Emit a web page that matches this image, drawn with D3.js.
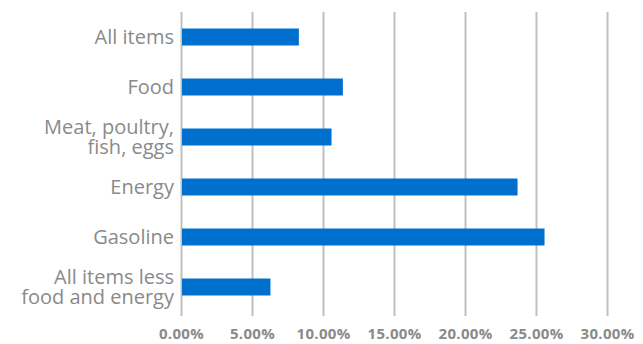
<!DOCTYPE html>
<meta charset="utf-8">
<style>
body { margin: 0; background: #fff; }
.grid line { stroke: #c0c0c0; stroke-width: 2px; }
.grid path { display: none; }
.cat { font-family: "Open Sans", sans-serif; font-size: 20px; fill: #8a8a8a; }
.tick text { font-family: "Open Sans", sans-serif; font-size: 15px; font-weight: bold; fill: #8a8a8a; letter-spacing: 0.3px; }
</style>
<body>
<svg width="643" height="344"></svg>
</body>
<script src="https://d3js.org/d3.v7.min.js"></script>
<script>
var categories = [["All items"], ["Food"], ["Meat, poultry,", "fish, eggs"], ["Energy"], ["Gasoline"], ["All items less", "food and energy"]];
var values = [8.3, 11.4, 10.6, 23.7, 25.6, 6.3];
var ticks = [0, 5, 10, 15, 20, 25, 30];

var svg = d3.select("svg");

var xScale = d3.scaleLinear()
    .domain([0, 30])
    .range([181, 607]);

var yScale = d3.scaleBand()
    .domain(d3.range(categories.length))
    .range([12, 312])
    .paddingInner(0.66)
    .paddingOuter(0.33);

// vertical grid lines + tick labels
svg.append("g")
    .attr("class", "grid")
    .attr("transform", "translate(0,316)")
    .call(d3.axisBottom(xScale)
        .tickValues(ticks)
        .tickSize(-304)
        .tickPadding(12)
        .tickFormat(function(d) { return d.toFixed(2) + "%"; })
    );

svg.selectAll("rect.bar")
    .data(values)
    .enter().append("rect")
    .attr("class", "bar")
    .attr("x", xScale(0) + 1)
    .attr("y", function(d, i) { return yScale(i); })
    .attr("width", function(d) { return xScale(d) - xScale(0) - 1; })
    .attr("height", yScale.bandwidth())
    .attr("fill", "#0070cf");

// category labels
var lab = svg.selectAll("text.cat")
    .data(categories)
    .enter().append("text")
    .attr("class", "cat")
    .attr("text-anchor", "end")
    .attr("x", 174)
    .attr("y", function(d, i) { return yScale(i) + yScale.bandwidth() / 2 - (d.length - 1) * 10 + 7; });

lab.selectAll("tspan")
    .data(function(d) { return d; })
    .enter().append("tspan")
    .attr("x", 174)
    .attr("dy", function(d, i) { return i ? 20 : 0; })
    .text(function(d) { return d; });
</script>
